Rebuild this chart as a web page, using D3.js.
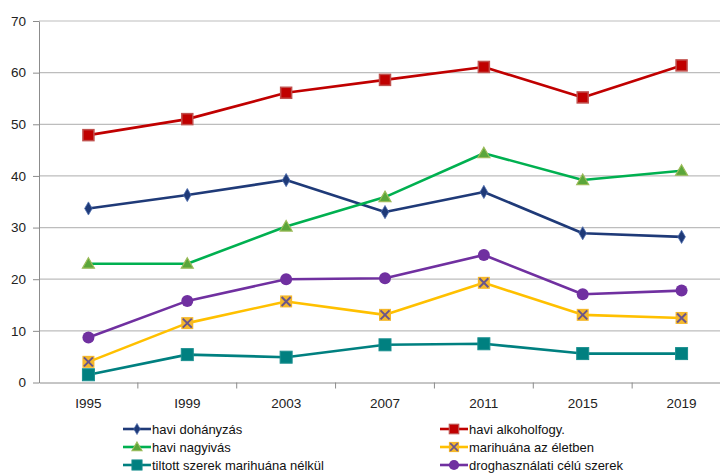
<!DOCTYPE html>
<html>
<head>
<meta charset="utf-8">
<script src="https://cdn.jsdelivr.net/npm/d3@7"></script>
<style>
  body { margin: 0; background: white; }
  svg { display: block; font-family: 'Liberation Sans', Arial, sans-serif; }
</style>
</head>
<body>
<svg id="chart"></svg>
<script>
// data
let years = ['I995', 'I999', '2003', '2007', '2011', '2015', '2019'];
let yTicks = [0, 10, 20, 30, 40, 50, 60, 70];

let dohanyzas = [33.7, 36.3, 39.2, 33.0, 36.9, 28.9, 28.2];
let alkohol = [47.9, 51.0, 56.1, 58.6, 61.1, 55.2, 61.4];
let nagyivas = [23.0, 23.0, 30.2, 35.9, 44.4, 39.2, 41.0];
let marihuana = [4.0, 11.5, 15.7, 13.1, 19.3, 13.1, 12.5];
let tiltott = [1.5, 5.4, 4.9, 7.3, 7.5, 5.6, 5.6];
let droghasznalati = [8.7, 15.8, 20.0, 20.2, 24.7, 17.1, 17.8];

let series = [
  { name: 'havi dohányzás', values: dohanyzas, color: '#1f3a78', marker: 'diamond' },
  { name: 'havi alkoholfogy.', values: alkohol, color: '#c00000', marker: 'square' },
  { name: 'havi nagyivás', values: nagyivas, color: '#00b050', marker: 'triangle' },
  { name: 'marihuána az életben', values: marihuana, color: '#ffc000', marker: 'cross' },
  { name: 'tiltott szerek marihuána nélkül', values: tiltott, color: '#008080', marker: 'bigsquare' },
  { name: 'droghasználati célú szerek', values: droghasznalati, color: '#7030a0', marker: 'circle' }
];

function drawMarker(g, type, color) {
  if (type === 'diamond') {
    g.append('path').attr('d', d3.symbol(d3.symbolDiamond, 50)())
      .attr('fill', color).attr('stroke', '#4f6fb0').attr('stroke-width', 0.8);
  } else if (type === 'square') {
    g.append('rect').attr('x', -5.5).attr('y', -5.5).attr('width', 11).attr('height', 11)
      .attr('fill', color).attr('stroke', '#c0504d').attr('stroke-width', 1.5);
  } else if (type === 'triangle') {
    g.append('path').attr('d', 'M0,-6L6,4.5L-6,4.5Z')
      .attr('fill', '#5aa63a').attr('stroke', '#9bbb59').attr('stroke-width', 1.2);
  } else if (type === 'cross') {
    g.append('rect').attr('x', -6).attr('y', -6).attr('width', 12).attr('height', 12)
      .attr('fill', '#f5b82a');
    g.append('path').attr('d', 'M-4.5,-4.5L4.5,4.5M-4.5,4.5L4.5,-4.5')
      .attr('stroke', '#6a558a').attr('stroke-width', 2);
  } else if (type === 'bigsquare') {
    g.append('rect').attr('x', -6).attr('y', -6).attr('width', 12).attr('height', 12)
      .attr('fill', color).attr('stroke', '#1a8f8f').attr('stroke-width', 1);
  } else if (type === 'circle') {
    g.append('circle').attr('r', 6).attr('fill', color);
  }
}

function createGraph() {
  let width = 720;
  let height = 473;
  let margin = { top: 21, bottom: 90.5, left: 39, right: -11 };

  let svg = d3.select('#chart');
  svg.selectAll('*').remove();
  svg.attr('width', width).attr('height', height);

  let x = d3.scaleBand()
    .domain(years)
    .range([margin.left, width - margin.right]);

  let y = d3.scaleLinear()
    .domain([0, 70])
    .range([height - margin.bottom, margin.top]);

  // gridlines
  svg.append('g')
    .selectAll('line')
    .data(yTicks.filter(d => d > 0))
    .enter()
    .append('line')
    .attr('x1', margin.left)
    .attr('x2', width)
    .attr('y1', d => y(d))
    .attr('y2', d => y(d))
    .attr('stroke', '#bdbdbd')
    .attr('stroke-width', 1.2);

  // y axis
  let yAxis = svg.append('g')
    .attr('transform', `translate(${margin.left}, 0)`)
    .call(d3.axisLeft(y).tickValues(yTicks).tickSize(6).tickSizeOuter(0));
  yAxis.select('.domain').attr('stroke', '#8c8c8c');
  yAxis.selectAll('.tick line').attr('stroke', '#8c8c8c');
  yAxis.selectAll('text')
    .attr('x', -13)
    .style('font-size', '13.5px')
    .style('font-family', "'Liberation Sans', Arial, sans-serif")
    .style('fill', '#222');

  // x axis
  let xAxis = svg.append('g')
    .attr('transform', `translate(0, ${y(0)})`)
    .call(d3.axisBottom(x).tickSize(0));
  xAxis.select('.domain').attr('stroke', '#8c8c8c');
  xAxis.selectAll('text')
    .attr('dy', '1.7em')
    .style('font-size', '13.5px')
    .style('font-family', "'Liberation Sans', Arial, sans-serif")
    .style('fill', '#222');
  // band boundary ticks
  svg.append('g')
    .selectAll('line')
    .data(years.slice(1))
    .enter()
    .append('line')
    .attr('x1', d => x(d))
    .attr('x2', d => x(d))
    .attr('y1', y(0))
    .attr('y2', y(0) + 6)
    .attr('stroke', '#8c8c8c');

  let line = d3.line()
    .x((d, i) => x(years[i]) + x.bandwidth() / 2)
    .y(d => y(d));

  series.forEach(s => {
    svg.append('path')
      .datum(s.values)
      .attr('d', line)
      .attr('fill', 'none')
      .attr('stroke', s.color)
      .attr('stroke-width', 2.6)
      .attr('stroke-linejoin', 'round');
  });

  series.forEach(s => {
    s.values.forEach((v, i) => {
      let g = svg.append('g')
        .attr('transform', `translate(${x(years[i]) + x.bandwidth() / 2}, ${y(v)})`);
      drawMarker(g, s.marker, s.color);
    });
  });

  // legend
  let legendX = [123, 440];
  let legendY = [429, 447, 465];
  series.forEach((s, i) => {
    let lx = legendX[i % 2];
    let ly = legendY[Math.floor(i / 2)];
    let g = svg.append('g').attr('transform', `translate(${lx}, ${ly})`);
    g.append('line')
      .attr('x1', 0).attr('x2', 28)
      .attr('stroke', s.color).attr('stroke-width', 2.6);
    let m = g.append('g').attr('transform', 'translate(14, 0) scale(0.85)');
    drawMarker(m, s.marker, s.color);
    g.append('text')
      .attr('x', 29)
      .attr('dy', '0.35em')
      .text(s.name)
      .style('font-size', '13px')
      .style('fill', '#111');
  });
}

createGraph();
</script>
</body>
</html>
